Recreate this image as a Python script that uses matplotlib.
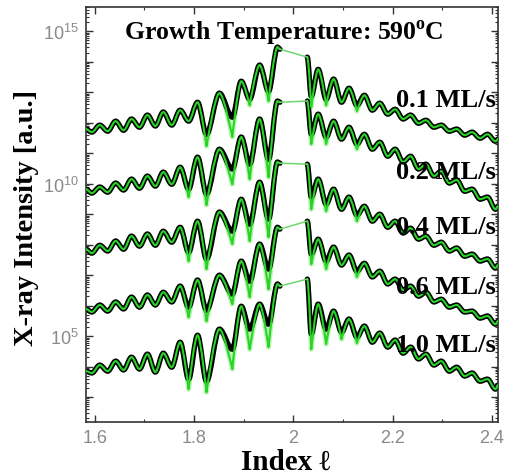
import matplotlib
matplotlib.use('Agg')
import matplotlib.pyplot as plt
from matplotlib.ticker import FixedLocator, LogLocator, NullFormatter, FuncFormatter, MultipleLocator
from matplotlib.path import Path
from matplotlib.patches import PathPatch
import numpy as np

plt.rcParams['font.family'] = 'Liberation Sans'
plt.rcParams['mathtext.fontset'] = 'custom'
plt.rcParams['mathtext.bf'] = 'Liberation Serif:bold'

# index l positions of the read-off extrema (left and right of the substrate peak)
l_left = [1.582, 1.594, 1.610, 1.626, 1.642, 1.658, 1.674, 1.690, 1.706, 1.722, 1.738, 1.755,
          1.772, 1.789, 1.807, 1.825, 1.851, 1.877, 1.895, 1.912, 1.932, 1.950, 1.968, 1.973]
l_right = [2.028, 2.036, 2.050, 2.066, 2.081, 2.097, 2.112, 2.128, 2.143, 2.159, 2.174, 2.190,
           2.205, 2.221, 2.236, 2.252, 2.267, 2.283, 2.298, 2.314, 2.329, 2.345, 2.360, 2.376,
           2.391, 2.407, 2.412]

rates = ['0.1 ML/s', '0.2 ML/s', '0.4 ML/s', '0.6 ML/s', '1.0 ML/s']

# log10 of the (offset) measured intensity
obs_left = [
    [11.79, 11.69, 11.92, 11.72, 12.05, 11.75, 12.12, 11.85, 12.25, 11.89, 12.35, 11.92,
     12.41, 12.05, 12.67, 11.62, 12.97, 12.18, 13.36, 12.77, 13.89, 13.03, 14.48, 14.41],
    [9.82, 9.69, 9.89, 9.72, 10.02, 9.79, 10.15, 9.85, 10.25, 9.92, 10.38, 9.98,
     10.54, 9.82, 10.87, 9.66, 11.13, 10.48, 11.53, 10.64, 12.12, 10.80, 12.71, 12.67],
    [7.85, 7.72, 7.98, 7.79, 8.12, 7.85, 8.28, 7.95, 8.35, 7.98, 8.44, 8.08,
     8.57, 7.75, 8.77, 7.53, 9.07, 8.44, 9.49, 8.67, 10.05, 8.84, 10.71, 10.67],
    [5.89, 5.79, 6.02, 5.82, 6.12, 5.89, 6.28, 5.95, 6.35, 6.02, 6.44, 6.12,
     6.64, 5.95, 6.84, 5.85, 7.00, 6.38, 7.46, 6.80, 8.02, 7.20, 8.57, 8.51],
    [3.85, 3.79, 4.05, 3.85, 4.18, 3.89, 4.31, 3.92, 4.41, 3.82, 4.44, 3.98,
     4.80, 3.59, 5.03, 3.52, 5.23, 4.57, 5.98, 5.23, 6.05, 5.39, 6.71, 6.64],
]
obs_right = [
    [14.15, 12.87, 13.75, 12.77, 13.43, 12.67, 13.13, 12.57, 12.90, 12.41, 12.64, 12.28,
     12.44, 12.12, 12.25, 11.98, 12.08, 11.85, 11.92, 11.72, 11.79, 11.59, 11.69, 11.49,
     11.62, 11.39, 11.46],
    [12.71, 11.62, 12.28, 11.53, 12.05, 11.46, 11.85, 11.30, 11.62, 11.13, 11.36, 10.90,
     11.13, 10.71, 10.90, 10.48, 10.64, 10.25, 10.41, 10.02, 10.12, 9.75, 9.82, 9.49,
     9.56, 9.16, 9.26],
    [10.64, 9.56, 10.15, 9.33, 9.82, 9.16, 9.56, 8.97, 9.26, 8.77, 9.00, 8.57,
     8.77, 8.38, 8.54, 8.18, 8.28, 7.98, 8.08, 7.79, 7.89, 7.62, 7.69, 7.46,
     7.53, 7.23, 7.33],
    [8.77, 7.69, 8.18, 7.46, 7.92, 7.33, 7.66, 7.13, 7.39, 6.94, 7.13, 6.71,
     6.87, 6.51, 6.64, 6.31, 6.44, 6.12, 6.21, 5.95, 6.02, 5.79, 5.82, 5.59,
     5.66, 5.39, 5.49],
    [6.87, 5.07, 6.05, 5.23, 5.82, 5.13, 5.56, 4.97, 5.33, 4.80, 5.10, 4.64,
     4.87, 4.44, 4.64, 4.25, 4.41, 4.05, 4.18, 3.85, 3.98, 3.69, 3.79, 3.52,
     3.59, 3.26, 3.39],
]

# where the fit dips deeper than the data (l, log10 I)
fit_dips = [
    {1.825: 11.23, 1.877: 11.53, 1.912: 12.57, 1.950: 12.71, 2.036: 12.51, 2.066: 12.57, 2.128: 12.38},
    {1.789: 9.56, 1.825: 9.30, 1.877: 9.98, 1.912: 10.15, 1.950: 10.21, 2.036: 11.30, 2.066: 11.30, 2.128: 11.13},
    {1.789: 7.46, 1.825: 7.20, 1.877: 8.02, 1.912: 8.12, 1.950: 8.25, 2.036: 9.16, 2.066: 9.10, 2.128: 8.77},
    {1.789: 5.62, 1.825: 5.49, 1.877: 6.05, 1.912: 6.28, 1.950: 6.54, 2.036: 7.36, 2.066: 7.20, 2.128: 6.94},
    {1.789: 3.26, 1.825: 3.16, 1.877: 3.92, 1.912: 4.57, 1.950: 4.64, 2.036: 4.57, 2.066: 4.74, 2.097: 4.90, 2.128: 4.77},
]

label_pos = [(2.408, 12.77), (2.408, 10.41), (2.408, 8.61), (2.408, 6.64), (2.408, 4.74)]


def wave(ax, x, y, sharp=(), **kw):
    # smooth curve through the extrema, flat tangent at each one
    # except at the sharp ones, where it makes a cusp
    verts = [(x[0], y[0])]
    codes = [Path.MOVETO]
    for j in range(len(x) - 1):
        d = (x[j + 1] - x[j]) / 3.0
        c1 = (x[j], y[j]) if x[j] in sharp else (x[j] + d, y[j])
        c2 = (x[j + 1], y[j + 1]) if x[j + 1] in sharp else (x[j + 1] - d, y[j + 1])
        verts += [c1, c2, (x[j + 1], y[j + 1])]
        codes += [Path.CURVE4] * 3
    ax.add_patch(PathPatch(Path(verts, codes), facecolor='none', capstyle='round',
                           joinstyle='round', **kw))


fig = plt.figure(figsize=(5.05, 4.77), dpi=100)
ax = fig.add_axes([0.170, 0.113, 0.816, 0.870])

l_all = l_left + l_right
nl = len(l_left)
for i in range(len(rates)):
    fit = obs_left[i] + obs_right[i]
    for pos, val in fit_dips[i].items():
        fit[l_all.index(pos)] = val
    fit = 10 ** np.array(fit)
    sharp = set(fit_dips[i].keys())
    for xs, fs, ds in [(l_left, fit[:nl], obs_left[i]), (l_right, fit[nl:], obs_right[i])]:
        wave(ax, xs, fs, sharp, edgecolor='#b8f4ae', lw=3.6, zorder=1)
        wave(ax, xs, 10 ** np.array(ds), edgecolor='black', lw=3.8, zorder=2)
        wave(ax, xs, fs, sharp, edgecolor='#27d427', lw=1.5, zorder=3)
    # straight fit across the gap with no data
    ax.plot([l_left[-1], l_right[0]], [fit[nl - 1], fit[nl]], color='#6fd66f', lw=1.1, zorder=3)
    ax.text(label_pos[i][0], 10 ** label_pos[i][1], rates[i], ha='right', va='center',
            fontfamily='Liberation Serif', fontweight='bold', fontsize=19, zorder=5)

ax.text(1.98, 10 ** 14.97, r'Growth Temperature: 590$^\mathbf{o}$C', ha='center', va='center',
        fontfamily='Liberation Serif', fontweight='bold', fontsize=18.5, zorder=5)

ax.set_yscale('log')
ax.set_xlim(1.582, 2.412)
ax.set_ylim(10 ** 2.18, 10 ** 15.79)

ax.xaxis.set_major_locator(MultipleLocator(0.2))
ax.xaxis.set_minor_locator(MultipleLocator(0.1))
ax.xaxis.set_major_formatter(FuncFormatter(lambda v, p: '%g' % round(v, 1)))

ax.yaxis.set_major_locator(FixedLocator([10.0 ** k for k in range(2, 16)]))
ax.yaxis.set_minor_locator(LogLocator(base=10, subs=np.arange(2, 10), numticks=40))
ax.yaxis.set_minor_formatter(NullFormatter())


def ylab(v, p):
    k = int(round(np.log10(v)))
    return r'$\mathdefault{10^{%d}}$' % k if k % 5 == 0 else ''


ax.yaxis.set_major_formatter(FuncFormatter(ylab))

ax.tick_params(which='both', direction='in', top=True, right=True, color='#333333')
ax.tick_params(which='major', length=5, width=1, labelsize=13, labelcolor='#8a8a8a', pad=5)
ax.tick_params(which='minor', length=2.5, width=0.8)
for s in ax.spines.values():
    s.set_color('#333333')
    s.set_linewidth(1.2)

fig.text(27 / 505, 1 - 218 / 477, 'X-ray Intensity [a.u.]', rotation=90, ha='center', va='center',
         fontfamily='Liberation Serif', fontweight='bold', fontsize=20.5)
fig.text(286 / 505, 1 - 462 / 477, 'Index ℓ', ha='center', va='center',
         fontfamily=['Liberation Serif', 'DejaVu Serif'], fontweight='bold', fontsize=21)

fig.savefig('out.png', dpi=100)
